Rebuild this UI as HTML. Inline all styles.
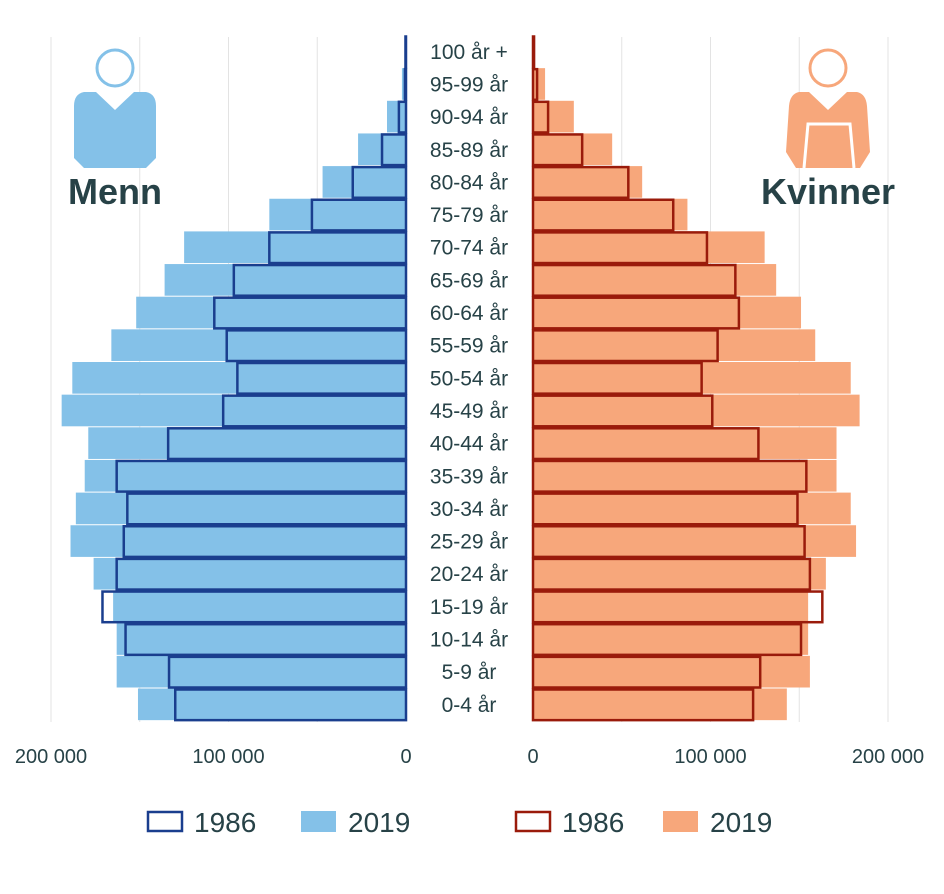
<!DOCTYPE html>
<html><head><meta charset="utf-8"><style>
body{margin:0;background:#fff;font-family:"Liberation Sans",sans-serif}
svg text{font-family:"Liberation Sans",sans-serif;fill:#274247}
</style></head><body>
<svg id="c" width="944" height="889" xmlns="http://www.w3.org/2000/svg"></svg>
<script>
const ageGroups=["0-4 år","5-9 år","10-14 år","15-19 år","20-24 år","25-29 år","30-34 år","35-39 år","40-44 år","45-49 år","50-54 år","55-59 år","60-64 år","65-69 år","70-74 år","75-79 år","80-84 år","85-89 år","90-94 år","95-99 år","100 år +"];
const men2019=[151000,163000,163000,165000,176000,189000,186000,181000,179000,194000,188000,166000,152000,136000,125000,77000,47000,27000,10700,2300,500];
const men1986=[130000,133500,158000,171000,163000,159000,157000,163000,134000,103000,95000,101000,108000,97000,77000,53000,30000,13500,4000,600,300];
const women2019=[143000,156000,155000,155000,165000,182000,179000,171000,171000,184000,179000,159000,151000,137000,130500,87000,61500,44600,23000,6800,1000];
const women1986=[124000,128000,151000,163000,156000,153000,149000,154000,127000,101000,95000,104000,116000,114000,98000,79000,53700,27700,8500,2300,600];
const tickVals=[200000,100000,0];
const tickLabels=["200 000","100 000","0"];
const NS="http://www.w3.org/2000/svg";
const svg=document.getElementById('c');
function el(t,a,p){const e=document.createElementNS(NS,t);for(const k in a)e.setAttribute(k,a[k]);(p||svg).appendChild(e);return e;}
const sc=177.5/100000;
const xL=v=>406-v*sc, xR=v=>533+v*sc;
const rowH=32.65, yTop0=688.5;
const yRow=i=>yTop0-i*rowH;
[50000,100000,150000,200000].forEach(v=>{
 let g=el('line',{x1:xL(v),x2:xL(v),y1:37,y2:722,stroke:'#e3e3e3','stroke-width':1});
 
 g=el('line',{x1:xR(v),x2:xR(v),y1:37,y2:722,stroke:'#e3e3e3','stroke-width':1});
 
});
ageGroups.forEach((a,i)=>{
 const y=yRow(i),h=rowH-1;
 let r=el('rect',{x:xL(men2019[i]),y:y,width:men2019[i]*sc,height:h,fill:'#84c1e8'});
 
 r=el('rect',{x:533,y:y,width:women2019[i]*sc,height:h,fill:'#f7a77b'});
 
});
ageGroups.forEach((a,i)=>{
 const y=yRow(i),h=rowH-1;
 let r=el('rect',{x:xL(men1986[i]),y:y+1,width:men1986[i]*sc,height:h-1,fill:'none',stroke:'#1a3e8e','stroke-width':2.5});
 
 r=el('rect',{x:533,y:y+1,width:women1986[i]*sc,height:h-1,fill:'none',stroke:'#9a1b0b','stroke-width':2.5});
 
 const t=el('text',{x:469,y:y+rowH/2+7,'text-anchor':'middle','font-size':21});
 t.textContent=a;
});
tickVals.forEach((v,i)=>{
 let t=el('text',{x:xL(v),y:763,'text-anchor':'middle','font-size':20});
 t.textContent=tickLabels[i];
 t=el('text',{x:xR(v),y:763,'text-anchor':'middle','font-size':20});
 t.textContent=tickLabels[i];
});
</script>
<svg style="position:absolute;left:0;top:0" width="944" height="889">
 <g>
  <circle cx="115" cy="68" r="18" fill="none" stroke="#84c1e8" stroke-width="3"/>
  <path d="M84 92 L96 92 L115 110 L134 92 L146 92 Q156 94 156 106 L156 158 L146 168 L84 168 L74 158 L74 106 Q74 94 84 92Z" fill="#84c1e8"/>
 </g>
 <text x="115" y="204" text-anchor="middle" font-size="36" font-weight="bold" fill="#274247">Menn</text>
 <g>
  <circle cx="828" cy="68" r="18" fill="none" stroke="#f7a77b" stroke-width="3"/>
  <path d="M799 92 L809 92 L828 110 L847 92 L857 92 Q866 94 867 106 L870 152 L860 168 L796 168 L786 152 L789 106 Q790 94 799 92Z" fill="#f7a77b"/>
  <path d="M804 168 L808 124 L850 124 L854 168" fill="none" stroke="#fff" stroke-width="3"/>
 </g>
 <text x="828" y="204" text-anchor="middle" font-size="36" font-weight="bold" fill="#274247">Kvinner</text>
 <g font-size="28" fill="#274247">
  <rect x="148" y="812" width="34" height="19" fill="none" stroke="#1a3e8e" stroke-width="2.5"/>
  <text x="194" y="832">1986</text>
  <rect x="301" y="811" width="35" height="21" fill="#84c1e8"/>
  <text x="348" y="832">2019</text>
  <rect x="516" y="812" width="34" height="19" fill="none" stroke="#9a1b0b" stroke-width="2.5"/>
  <text x="562" y="832">1986</text>
  <rect x="663" y="811" width="35" height="21" fill="#f7a77b"/>
  <text x="710" y="832">2019</text>
 </g>
</svg>
</body></html>
